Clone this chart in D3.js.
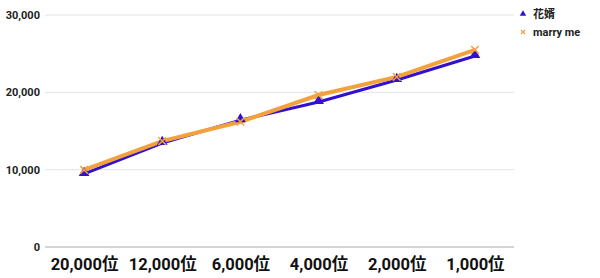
<!DOCTYPE html>
<html>
<head>
<meta charset="utf-8">
<script src="https://cdn.jsdelivr.net/npm/d3@7"></script>
<style>
body { margin: 0; background: #fff; }
text { font-family: Roboto, "Noto Sans CJK JP", sans-serif; }
</style>
</head>
<body>
<script>
const width = 600, height = 278

const categories = ["20,000位", "12,000位", "6,000位", "4,000位", "2,000位", "1,000位"]
const groom = [9450, 13450, 16400, 18750, 21600, 24700]
const marryMe = [9960, 13700, 16200, 19650, 22000, 25500]
const yTicks = [0, 10000, 20000, 30000]
const seriesNames = ["花婿", "marry me"]

const blue = "#3210d2", orange = "#f3a13c"

let svg = d3.select("body")
    .append("svg")
    .attr("width", width)
    .attr("height", height)

const x = d3.scalePoint()
    .domain(categories)
    .range([45, 514])
    .padding(0.5)

const y = d3.scaleLinear()
    .domain([0, 30000])
    .range([247, 15])

// grid
svg.append("g")
    .selectAll("line")
    .data(yTicks)
    .join("line")
    .attr("x1", 45).attr("x2", 514)
    .attr("y1", d => y(d)).attr("y2", d => y(d))
    .attr("stroke", d => d == 0 ? "#aaaaaa" : "#e3e3e3")
    .attr("stroke-width", 1)

// y axis labels
let yAxis = svg.append("g")
    .attr("transform", "translate(40,0)")
    .call(d3.axisLeft(y).tickValues(yTicks).tickFormat(d3.format(",")).tickSize(0).tickPadding(0))
yAxis.select(".domain").remove()
yAxis.selectAll("text")
    .attr("font-size", 11)
    .attr("font-weight", "bold")
    .attr("fill", "#222")

// x axis labels
let xAxis = svg.append("g")
    .attr("transform", "translate(0,247)")
    .call(d3.axisBottom(x).tickSize(0).tickPadding(11))
xAxis.select(".domain").remove()
xAxis.selectAll("text")
    .attr("font-size", 16.5)
    .attr("font-weight", "bold")
    .attr("fill", "#111")

const line = d3.line()
    .x((d, i) => x(categories[i]))
    .y(d => y(d))

svg.append("path")
    .datum(groom)
    .attr("d", line)
    .attr("fill", "none")
    .attr("stroke", blue)
    .attr("stroke-width", 3)

svg.append("path")
    .datum(marryMe)
    .attr("d", line)
    .attr("fill", "none")
    .attr("stroke", orange)
    .attr("stroke-width", 4)

const tri = d3.symbol().type(d3.symbolTriangle).size(50)
const cross = d3.symbol().type(d3.symbolX).size(40)

svg.append("g")
    .selectAll("path")
    .data(groom)
    .join("path")
    .attr("d", tri)
    .attr("transform", (d, i) => `translate(${x(categories[i])},${y(d) - 1})`)
    .attr("fill", blue)

svg.append("g")
    .selectAll("path")
    .data(marryMe)
    .join("path")
    .attr("d", cross)
    .attr("transform", (d, i) => `translate(${x(categories[i])},${y(d)})`)
    .attr("stroke", orange)
    .attr("stroke-width", 1.5)
    .attr("fill", "none")

// legend
let legend = svg.append("g")
    .selectAll("g")
    .data(seriesNames)
    .join("g")
    .attr("transform", (d, i) => `translate(523,${14 + i * 18})`)

legend.append("path")
    .attr("d", (d, i) => i == 0 ? d3.symbol().type(d3.symbolTriangle).size(18)() : d3.symbol().type(d3.symbolX).size(12)())
    .attr("fill", (d, i) => i == 0 ? blue : "none")
    .attr("stroke", (d, i) => i == 0 ? "none" : orange)
    .attr("stroke-width", 1.2)

legend.append("text")
    .attr("x", 10)
    .attr("dy", "0.35em")
    .attr("font-size", 11)
    .attr("font-weight", "bold")
    .attr("fill", "#222")
    .text(d => d)
</script>
</body>
</html>
